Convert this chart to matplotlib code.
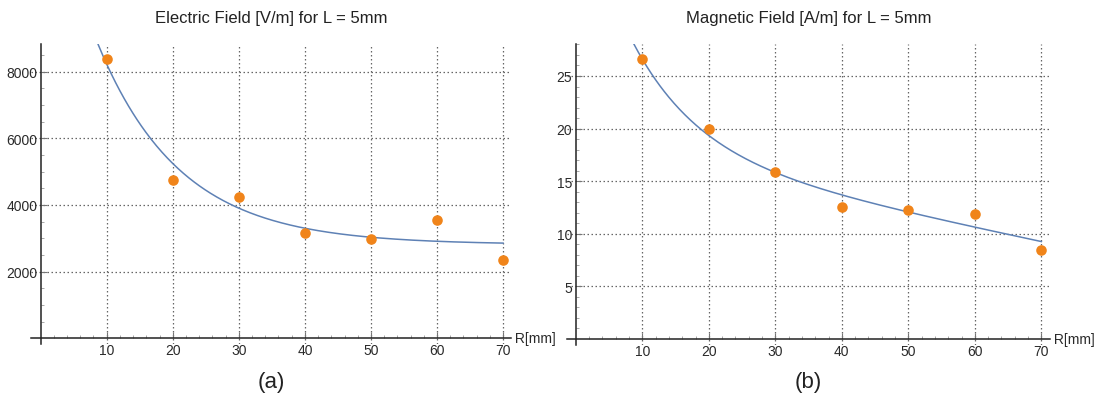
import numpy as np
import matplotlib
matplotlib.use("Agg")
import matplotlib.pyplot as plt
import matplotlib.transforms as mtransforms
from matplotlib.ticker import FixedLocator

plt.rcParams['font.family'] = ['Liberation Sans', 'DejaVu Sans']

# ---- data ----
r_mm = [10, 20, 30, 40, 50, 60, 70]
e_field = [8370, 4740, 4230, 3160, 2990, 3540, 2360]
h_field = [26.6, 19.95, 15.85, 12.55, 12.3, 11.9, 8.42]

e_yticks = [2000, 4000, 6000, 8000]
h_yticks = [5, 10, 15, 20, 25]
x_ticks = [10, 20, 30, 40, 50, 60, 70]

# fitted-model parameters
e_fit = dict(a=2810.0, b=12042.0, c=0.080)          # a + b*exp(-c r)
h_fit = dict(a=18.55, b=25.5, c=0.10, d=-0.133)     # a + b*exp(-c r) + d r

titles = ["Electric Field [V/m] for L = 5mm", "Magnetic Field [A/m] for L = 5mm"]
panel_labels = ["(a)", "(b)"]

W, H = 1099, 402
fig = plt.figure(figsize=(W / 100, H / 100), dpi=100)

curve_col = '#5E81B5'
dot_col = '#F0841A'
grid_col = '#666666'
axis_col = '#222222'
tick_lbl_col = '#2a2a2a'

r_dense = np.linspace(5, 70, 400)
e_curve = e_fit['a'] + e_fit['b'] * np.exp(-e_fit['c'] * r_dense)
h_curve = h_fit['a'] + h_fit['b'] * np.exp(-h_fit['c'] * r_dense) + h_fit['d'] * r_dense

panels = [
    dict(px=(31.4, 511.0), py=(44.5, 345.3), xlim=(-1.4, 71.2), ylim=(-180, 8840),
         y=e_field, curve=e_curve, yticks=e_yticks, yminor=500),
    dict(px=(566.5, 1050.0), py=(45.0, 346.0), xlim=(-1.4, 71.3), ylim=(-0.57, 28.04),
         y=h_field, curve=h_curve, yticks=h_yticks, yminor=1),
]

for i, p in enumerate(panels):
    l, r = p['px']
    t, b = p['py']
    ax = fig.add_axes([l / W, 1 - b / H, (r - l) / W, (b - t) / H])
    ax.set_xlim(*p['xlim'])
    ax.set_ylim(*p['ylim'])
    ax.patch.set_alpha(0)

    for s in ['top', 'right']:
        ax.spines[s].set_visible(False)
    ax.spines['left'].set_position(('data', 0))
    ax.spines['bottom'].set_position(('data', 0))
    for s in ['left', 'bottom']:
        ax.spines[s].set_color(axis_col)
        ax.spines[s].set_linewidth(1.1)

    ax.xaxis.set_major_locator(FixedLocator(x_ticks))
    ax.xaxis.set_minor_locator(FixedLocator([v for v in range(2, 71, 2) if v % 10 != 0]))
    ax.yaxis.set_major_locator(FixedLocator(p['yticks']))
    ym = p['yminor']
    top = p['ylim'][1]
    minors = [k * ym for k in range(1, int(top / ym) + 1) if (k * ym) not in p['yticks']]
    ax.yaxis.set_minor_locator(FixedLocator(minors))

    ax.tick_params(axis='both', which='major', direction='in', length=4, width=0.8,
                   colors='#777777', labelcolor=tick_lbl_col, labelsize=10)
    ax.tick_params(axis='both', which='minor', direction='in', length=2, width=0.6,
                   colors='#999999')
    ax.tick_params(axis='x', which='major', pad=3.5)
    ax.tick_params(axis='y', which='major', pad=2.5)
    ax.set_xticklabels([str(v) for v in x_ticks])
    ax.set_yticklabels([str(v) for v in p['yticks']])

    for xv in x_ticks:
        ax.axvline(xv, color=grid_col, lw=0.9, ls=(0, (1.2, 2.0)), zorder=1)
    for yv in p['yticks']:
        ax.axhline(yv, color=grid_col, lw=0.9, ls=(0, (1.2, 2.0)), zorder=1)

    ax.plot(r_dense, p['curve'], color=curve_col, lw=1.1, zorder=3, clip_on=True)
    ax.scatter(r_mm, p['y'], s=58, color=dot_col, zorder=4, linewidths=0, clip_on=False)

    trans = mtransforms.blended_transform_factory(ax.transAxes, ax.transData)
    ax.text(1.0, 0, " R[mm]", transform=trans,
            ha='left', va='center', fontsize=10, color=tick_lbl_col)

    cx = (l + r) / 2 / W
    fig.text(cx, 1 - 18 / H, titles[i], ha='center', va='center', fontsize=12,
             color='#222222')
    fig.text(cx, 1 - 383 / H, panel_labels[i], ha='center', va='center', fontsize=16,
             color='#222222')

fig.savefig("out.png", dpi=100)
